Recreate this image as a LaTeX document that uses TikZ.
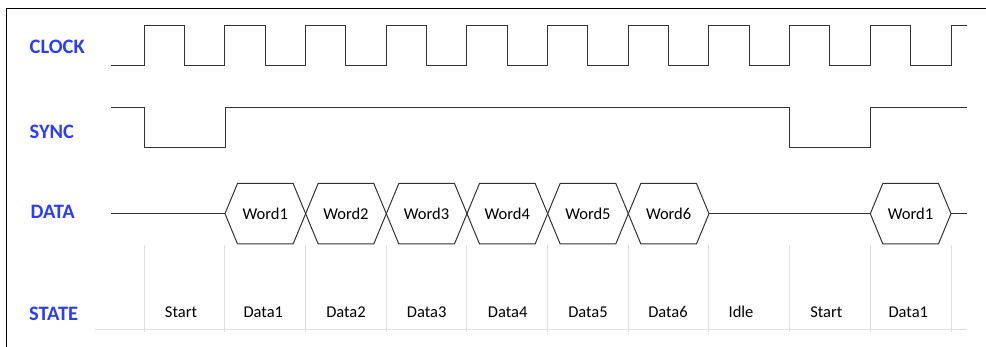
\documentclass[tikz,border=0pt]{standalone}
\usepackage{fontspec}
\setmainfont{Carlito}
\definecolor{sigblue}{RGB}{42,61,255}

\begin{document}
\begin{tikzpicture}[x=1pt, y=-1pt,
	wave/.style = {line width=1pt, black!80, line join=miter},
	sig/.style = {font=\bfseries\fontsize{20.5}{22}\selectfont, text=sigblue, anchor=west, inner sep=0pt},
	word/.style = {font=\fontsize{16.5}{18}\selectfont, inner sep=0pt, anchor=base},
	gridline/.style = {line width=1pt, black!13}]

\useasboundingbox (0,0) rectangle (986,347);
\draw[line width=1pt] (6,347) -- (6,9) -- (986,9);

\node[sig] (clk) at (29.5,46.5) {CLOCK};
\node[sig] (sync) at (29.5,132) {SYNC};
\node[sig] (data) at (30.5,211.5) {DATA};
\node[sig] (state) at (29,313.5) {STATE};

% clock
\draw[wave] (111,66) foreach \k in {0,...,9} { -| ({144.3+80.67*\k},26) -| ({184.6+80.67*\k},66) } -| (951,26) -- (966.7,26);

% sync
\draw[wave] (111,108) -| (144.3,148) -| (225,108) -| (789.7,148) -| (870.3,108) -- (966.7,108);

% data
\draw[wave] (111,213.7) -- (225,213.7);
\foreach \k in {1,...,6} {
	\draw[wave] ({144.3+80.67*\k},213.7) -- ++(12.5,-30.2) -- ++(55.67,0) -- ++(12.5,30.2) -- ++(-12.5,30.2) -- ++(-55.67,0) -- cycle;
	\node[word] (w\k) at ({184.6+80.67*\k},219.5) {Word\k};
}
\draw[wave] (709.3,213.7) -- (870.3,213.7);
\draw[wave] (870.3,213.7) -- ++(12.5,-30.2) -- ++(55.67,0) -- ++(12.5,30.2) -- ++(-12.5,30.2) -- ++(-55.67,0) -- cycle;
\node[word] (w7) at (910.6,219.5) {Word1};
\draw[wave] (951,213.7) -- (966.7,213.7);

% state
\foreach \k in {0,...,10}
	\draw[gridline] ({144.3+80.67*\k},245) -- ++(0,86.7);
\draw[gridline] (95,329.5) -- (966.7,329.5);
\foreach \x/\t [count=\i] in {181/Start, 263.3/Data1, 346/Data2, 426.7/Data3, 507.7/Data4, 588/Data5, 668/Data6, 741/Idle, 826.3/Start, 908.3/Data1}
	\node[word] (s\i) at (\x,317.5) {\t};
\end{tikzpicture}
\end{document}
